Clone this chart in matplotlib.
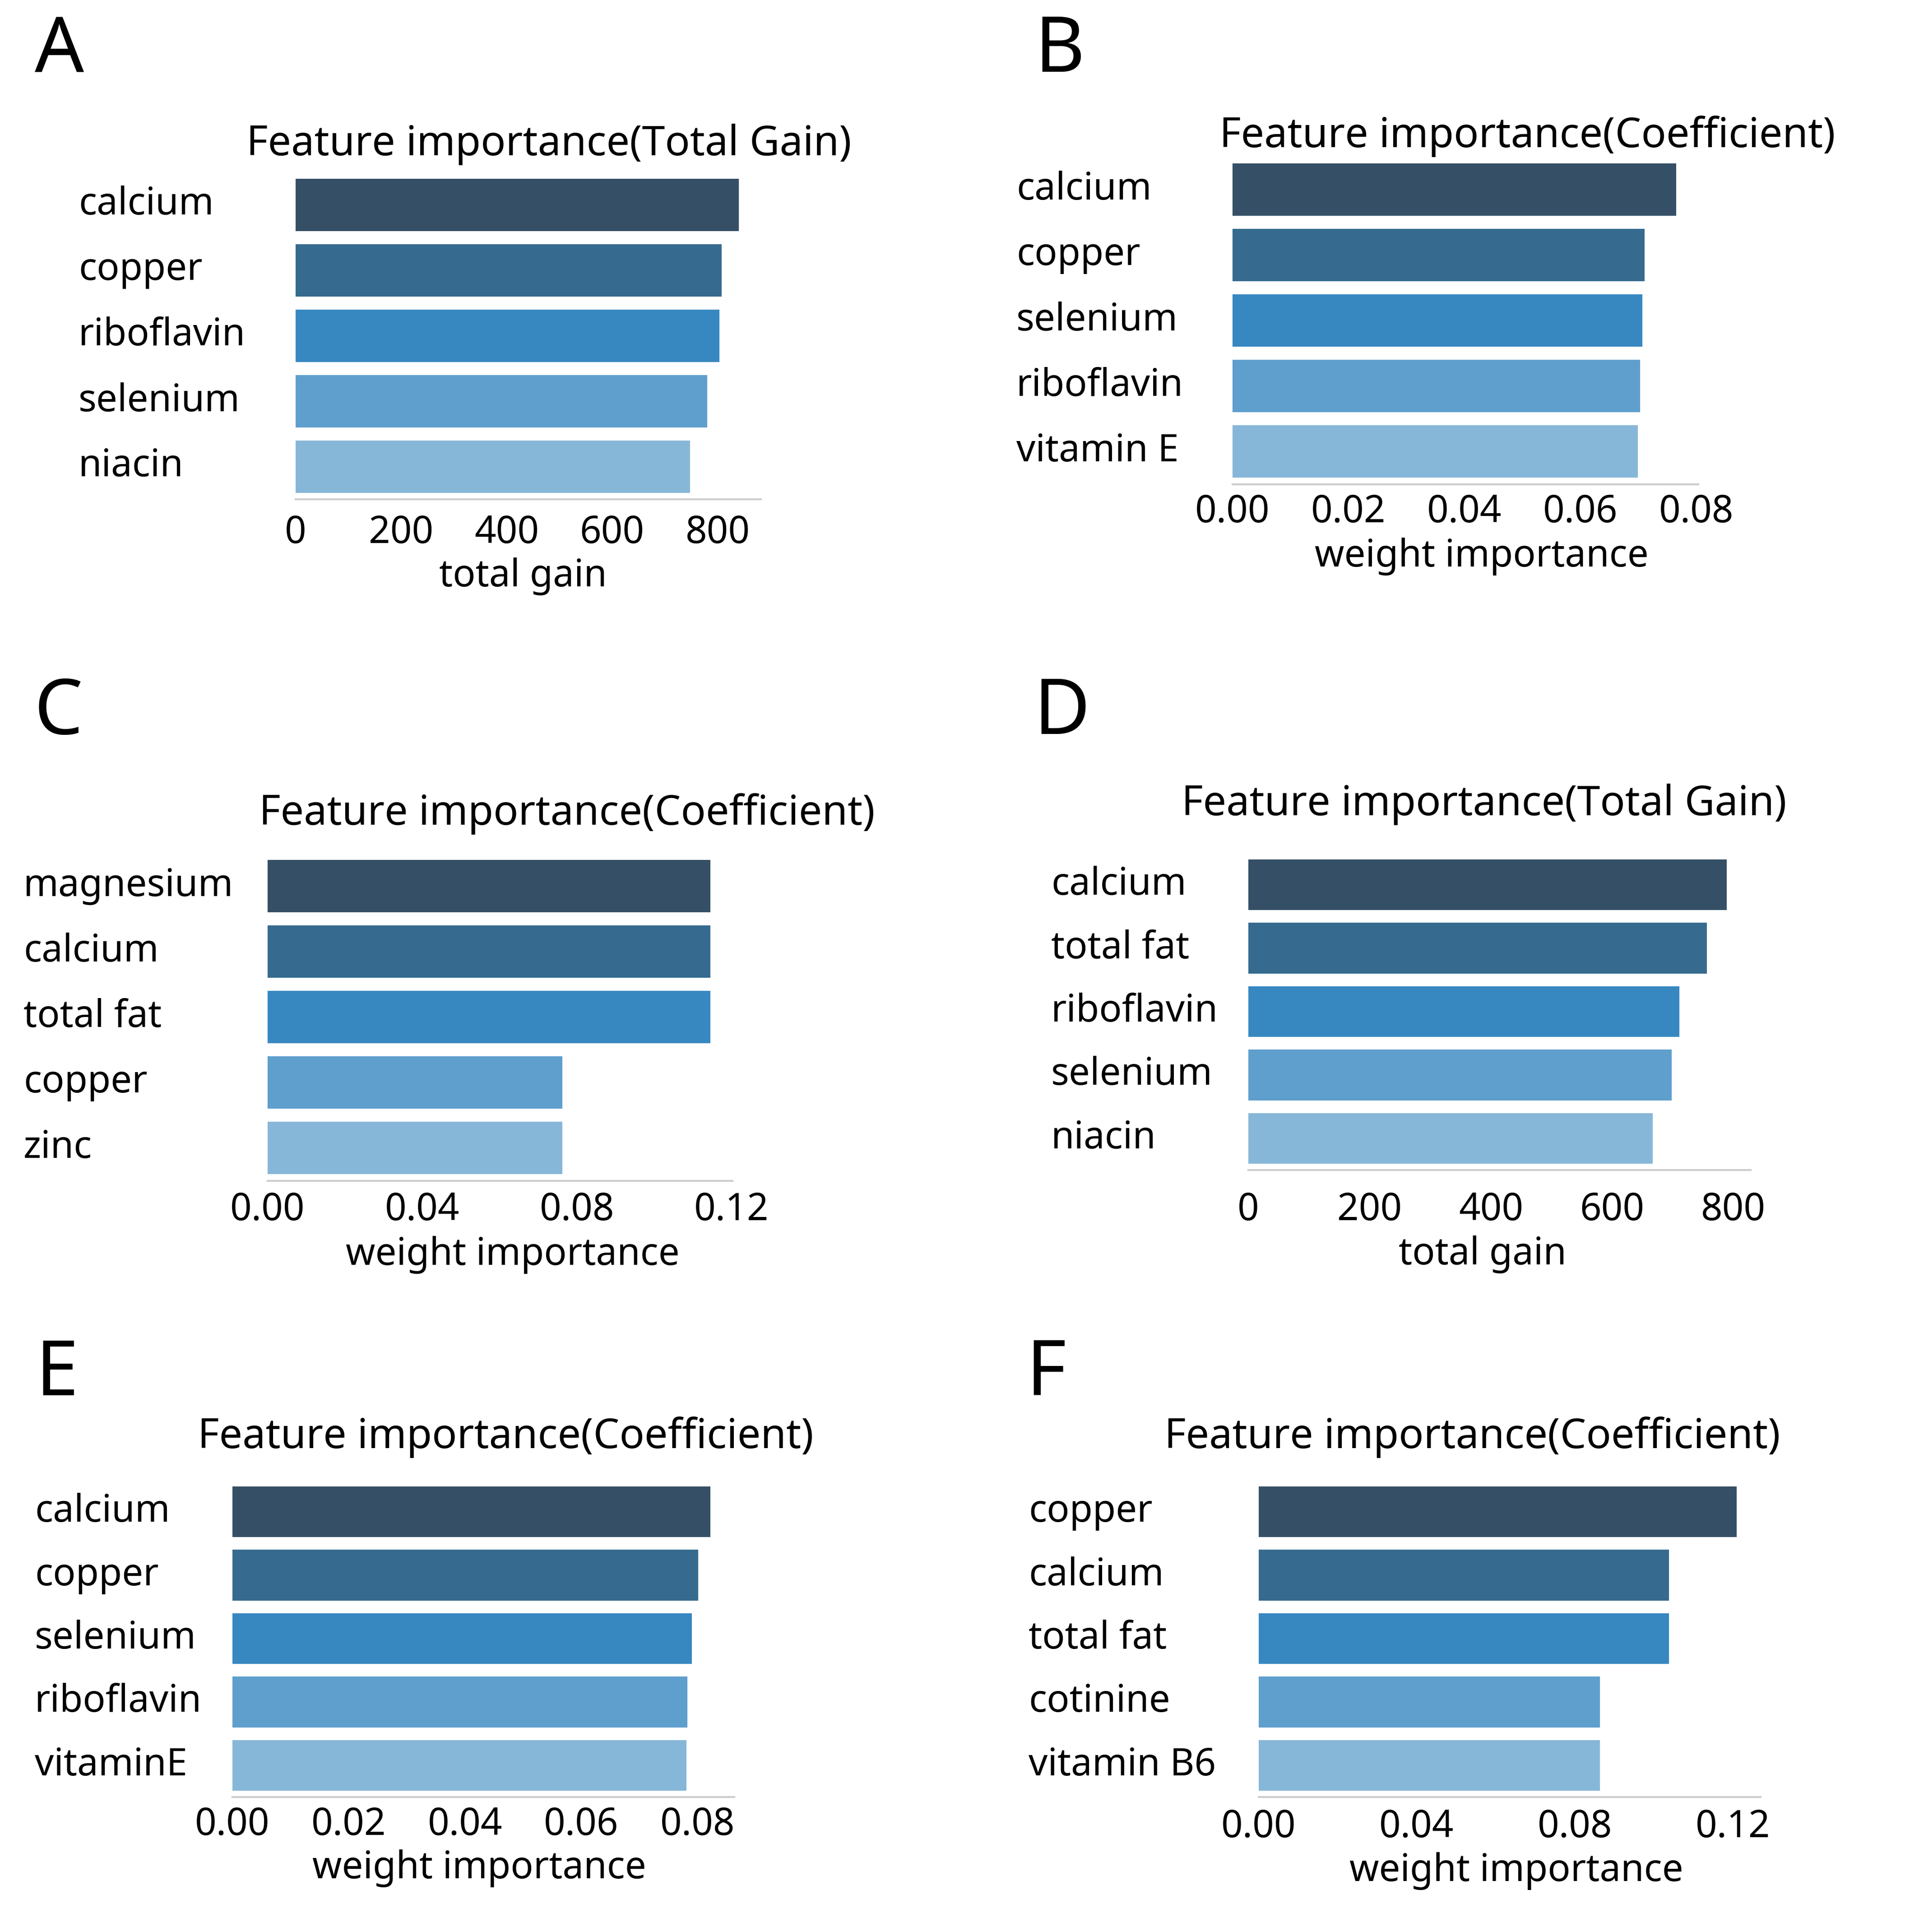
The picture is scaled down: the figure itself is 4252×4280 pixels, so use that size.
import matplotlib.pyplot as plt
from matplotlib.ticker import FormatStrFormatter

plt.rcParams['font.family'] = ['Noto Sans', 'DejaVu Sans']

# panel data
a_features = ['calcium', 'copper', 'riboflavin', 'selenium', 'niacin']
a_values = [840, 808, 803, 780, 748]

b_features = ['calcium', 'copper', 'selenium', 'riboflavin', 'vitamin E']
b_values = [0.0765, 0.0711, 0.0707, 0.0703, 0.0699]

c_features = ['magnesium', 'calcium', 'total fat', 'copper', 'zinc']
c_values = [0.1145, 0.1145, 0.1145, 0.0762, 0.0762]

d_features = ['calcium', 'total fat', 'riboflavin', 'selenium', 'niacin']
d_values = [789, 756, 711, 698, 667]

e_features = ['calcium', 'copper', 'selenium', 'riboflavin', 'vitaminE']
e_values = [0.0822, 0.0801, 0.0790, 0.0782, 0.0781]

f_features = ['copper', 'calcium', 'total fat', 'cotinine', 'vitamin B6']
f_values = [0.121, 0.1038, 0.1038, 0.0864, 0.0864]

gain_ticks = [0, 200, 400, 600, 800]
coef_ticks_a = [0.00, 0.02, 0.04, 0.06, 0.08]
coef_ticks_b = [0.00, 0.04, 0.08, 0.12]

colors = ['#355066', '#366b8f', '#3788c1', '#5f9fcd', '#87b7d8']

W, H = 4252, 4280
DPI = 300
fig = plt.figure(figsize=(W / DPI, H / DPI), dpi=DPI)


def fx(x):
    return x / W


def fy(y):
    return 1 - y / H


# letter, features, values, ticks, fmt, title, xlabel,
# axes box (px), letter pos, title pos, xlabel pos, ylabel left x, xtick pad
panels = [
    ('A', a_features, a_values, gain_ticks, '%d', 'Feature importance(Total Gain)', 'total gain',
     (655, 381, 1686, 1106), (132, 160), (1216, 344), (1159, 1299), 174, 8.0),
    ('B', b_features, b_values, coef_ticks_a, '%.2f', 'Feature importance(Coefficient)', 'weight importance',
     (2731, 347, 3763, 1073), (2348, 159), (3384, 326), (3283, 1255), 2252, 4.8),
    ('C', c_features, c_values, coef_ticks_b, '%.2f', 'Feature importance(Coefficient)', 'weight importance',
     (593, 1890, 1623, 2616), (130, 1626), (1256, 1827), (1136, 2802), 52, 5.5),
    ('D', d_features, d_values, gain_ticks, '%d', 'Feature importance(Total Gain)', 'total gain',
     (2766, 1890, 3879, 2592), (2353, 1626), (3288, 1806), (3285, 2801), 2329, 11.2),
    ('E', e_features, e_values, coef_ticks_a, '%.2f', 'Feature importance(Coefficient)', 'weight importance',
     (515, 3279, 1627, 3981), (126, 3091), (1120, 3208), (1062, 4161), 77, 4.8),
    ('F', f_features, f_values, coef_ticks_b, '%.2f', 'Feature importance(Coefficient)', 'weight importance',
     (2789, 3279, 3901, 3981), (2318, 3091), (3262, 3208), (3360, 4167), 2279, 6.0),
]

for (letter, feats, vals, ticks, fmt, title, xlab,
     box, lpos, tpos, xpos, ylab_x, xpad) in panels:
    x0, y0, x1, y1 = box
    ax = fig.add_axes([fx(x0), fy(y1), (x1 - x0) / W, (y1 - y0) / H])
    pos = list(range(len(feats)))
    ax.barh(pos, vals, height=0.8, color=colors)
    ax.set_ylim(len(feats) - 0.5, -0.5)
    ax.set_xticks(ticks)
    ax.xaxis.set_major_formatter(FormatStrFormatter(fmt))
    ax.set_yticks(pos)
    ax.set_yticklabels(feats, ha='left', va='center')
    ypad = (x0 - ylab_x) / DPI * 72
    ax.tick_params(axis='y', length=0, pad=ypad, labelsize=20)
    ax.tick_params(axis='x', length=0, pad=xpad, labelsize=20)
    for s in ['top', 'right', 'left']:
        ax.spines[s].set_visible(False)
    ax.spines['bottom'].set_color('#cccccc')
    ax.spines['bottom'].set_linewidth(1.0)

    fig.text(fx(lpos[0]), fy(lpos[1]), letter, fontsize=41, fontweight='medium',
             ha='center', va='baseline')
    fig.text(fx(tpos[0]), fy(tpos[1]), title, fontsize=22, ha='center', va='baseline')
    fig.text(fx(xpos[0]), fy(xpos[1]), xlab, fontsize=20, ha='center', va='baseline')

fig.savefig('out.png', dpi=DPI, facecolor='white')
